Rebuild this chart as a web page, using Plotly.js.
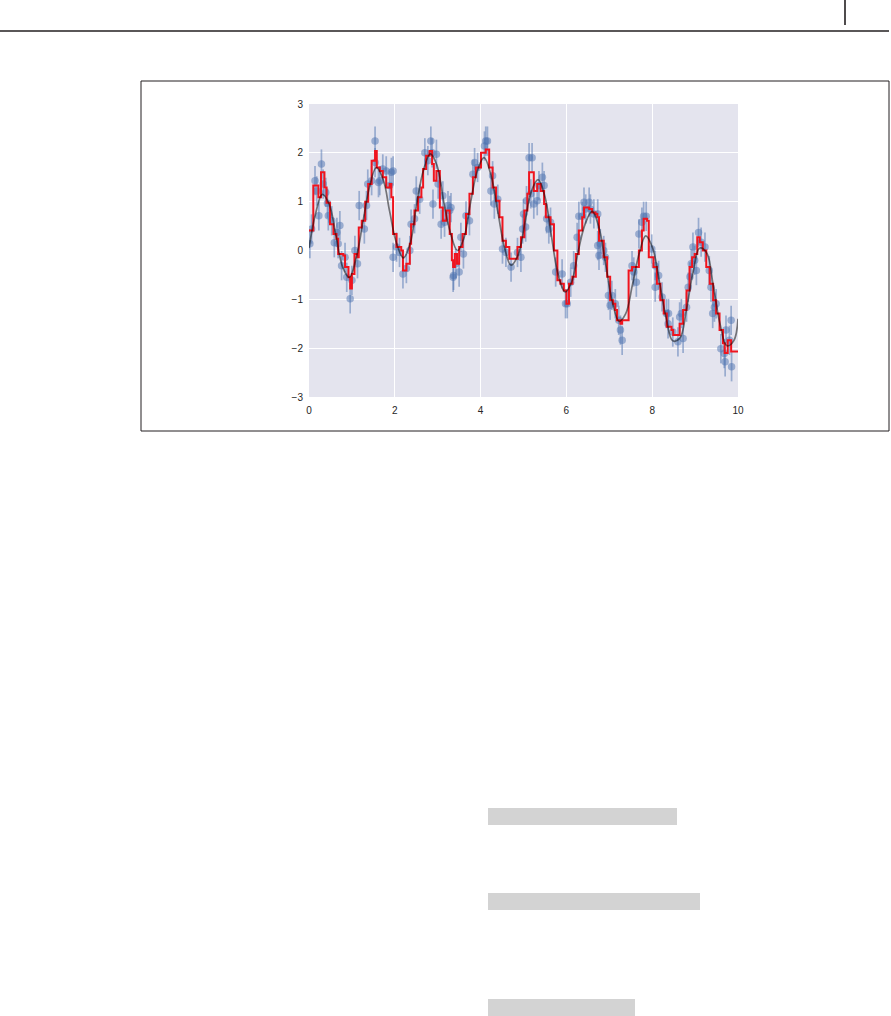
<!DOCTYPE html>
<html>
<head>
<meta charset="utf-8">
<script src="https://cdn.plot.ly/plotly-3.0.1.min.js"></script>
<style>
html,body{margin:0;padding:0;background:#fff;}
#chart{width:891px;height:1016px;}
</style>
</head>
<body>
<div id="chart"></div>
<script>
const dataX = [0.02,0.06,0.14,0.18,0.23,0.29,0.33,0.39,0.43,0.45,0.53,0.59,0.65,0.72,0.68,0.76,0.84,0.88,0.96,1.0,1.07,1.13,1.17,1.29,1.34,1.37,1.46,1.54,1.54,1.62,
1.65,1.72,1.8,1.88,1.92,1.96,1.96,2.04,2.11,2.19,2.27,2.35,2.38,2.46,2.5,2.58,2.7,2.77,2.84,2.87,2.89,2.97,3.01,3.12,3.08,3.16,3.24,3.28,3.36,
3.31,3.37,3.42,3.5,3.54,3.6,3.66,3.74,3.82,3.86,3.93,4.09,4.12,4.16,4.24,4.28,4.32,4.4,4.51,4.59,4.71,4.86,4.94,4.98,5.0,5.07,
5.05,5.13,5.2,5.17,5.24,5.32,5.36,5.44,5.48,5.54,5.59,5.63,5.75,5.9,5.98,6.02,6.1,6.17,6.25,6.29,6.37,6.41,6.45,6.53,6.56,6.64,6.73,6.76,
6.73,6.79,6.87,6.91,6.98,7.02,7.06,7.14,7.22,7.26,7.3,7.53,7.57,7.63,7.69,7.76,7.8,7.86,7.99,8.07,8.07,8.15,8.23,8.33,8.37,
8.38,8.48,8.6,8.64,8.68,8.72,8.8,8.84,8.88,8.91,8.95,8.99,9.03,9.08,9.14,9.23,9.33,9.37,9.41,9.45,9.49,9.6,9.68,9.72,9.7,9.8,9.84,9.85];
const dataY = [0.14,0.44,1.43,1.22,0.71,1.77,1.36,1.19,0.97,0.71,0.61,0.16,0.37,0.51,0.14,-0.31,-0.14,-0.55,-0.99,-0.61,0.0,-0.27,0.92,0.44,0.92,1.36,1.43,2.24,1.8,1.39,
1.43,1.67,1.63,1.33,1.6,1.63,-0.14,0.07,-0.04,-0.48,-0.37,0.0,0.54,0.65,1.22,1.05,2.0,1.84,2.24,2.0,0.95,1.97,1.36,1.12,0.54,0.58,0.92,0.82,-0.55,
0.88,-0.51,-0.27,-0.44,0.27,-0.07,0.71,0.61,1.56,1.8,1.7,2.14,2.24,2.24,1.22,1.53,0.95,1.05,0.03,-0.04,-0.34,-0.04,-0.14,0.44,0.75,1.02,
0.48,1.9,1.9,1.16,0.95,1.02,1.33,1.5,1.33,0.65,0.44,0.58,-0.44,-0.48,-1.09,-1.09,-0.65,-0.31,0.27,0.7,0.7,0.99,0.85,0.99,0.85,0.75,0.1,-0.1,
0.75,0.14,0.0,-0.14,-0.92,-1.12,-0.92,-1.09,-1.43,-1.63,-1.84,-0.31,-0.44,-0.65,0.34,0.58,0.7,0.7,0.03,-0.31,-0.75,-0.51,-0.95,-1.29,-1.5,
-1.29,-1.67,-1.87,-1.36,-1.29,-1.8,-1.16,-0.75,-0.54,-0.27,0.07,-0.2,-0.41,0.37,0.17,0.07,-0.41,-0.75,-1.29,-1.16,-1.09,-2.01,-2.11,-1.63,-2.28,-1.84,-1.43,-2.38];
const errorSize = 0.3;

// Random forest prediction (step curve)
const forestX = [0.0,0.1,0.22,0.28,0.36,0.41,0.49,0.57,0.64,0.68,0.8,0.84,0.92,0.96,1.0,1.06,1.13,1.16,1.23,1.31,1.38,1.46,1.54,1.58,1.65,1.72,1.8,1.88,1.92,1.96,
2.04,2.15,2.19,2.27,2.35,2.38,2.46,2.54,2.62,2.66,2.73,2.81,2.87,2.91,2.97,3.05,3.12,3.2,3.28,3.33,3.36,3.4,3.45,3.5,3.58,3.66,3.74,3.82,3.89,4.01,
4.12,4.2,4.28,4.36,4.44,4.51,4.59,4.67,4.86,4.94,5.02,5.09,5.13,5.24,5.32,5.4,5.48,5.52,5.63,5.71,5.79,5.86,5.94,6.0,6.06,6.14,6.22,6.29,6.37,6.41,
6.53,6.6,6.68,6.72,6.76,6.87,6.95,7.02,7.09,7.14,7.18,7.26,7.3,7.45,7.53,7.69,7.76,7.8,7.88,7.92,8.03,8.11,8.19,8.27,8.34,8.45,8.49,8.64,8.72,8.8,
8.87,8.93,8.99,9.05,9.11,9.18,9.26,9.34,9.42,9.49,9.57,9.65,9.69,9.76,9.84,10.0];
const forestY = [0.41,1.33,1.09,1.6,1.29,0.98,0.54,0.34,0.24,-0.07,-0.1,-0.34,-0.55,-0.78,-0.48,-0.07,-0.14,0.47,0.61,1.0,1.36,1.84,2.04,1.7,1.63,1.5,1.29,1.36,1.09,0.34,
0.07,0.0,-0.41,-0.27,0.14,0.54,0.82,1.09,1.29,1.67,1.94,2.04,1.77,1.43,1.63,0.88,0.61,0.82,0.34,-0.2,-0.34,-0.07,-0.27,0.07,0.34,0.75,1.16,1.5,1.7,2.0,
2.07,1.7,1.29,1.02,0.68,0.2,0.07,-0.17,0.07,0.27,0.82,1.16,1.6,1.22,1.36,1.22,0.95,0.68,0.54,0.0,-0.61,-0.68,-0.82,-1.09,-0.68,-0.54,-0.07,0.41,0.68,0.88,
0.85,0.78,0.75,0.68,0.2,-0.14,-0.54,-1.02,-1.09,-1.22,-1.43,-1.5,-1.43,-0.41,-0.34,0.0,0.41,0.65,0.61,-0.14,-0.34,-0.68,-1.02,-1.29,-1.56,-1.63,-1.73,-1.5,-1.22,-0.82,
-0.34,-0.14,-0.07,0.27,0.17,0.0,-0.34,-0.68,-1.02,-1.29,-1.63,-1.9,-2.1,-1.84,-2.07,-2.07];

// True model curve
const trueX = [0,0.16,0.31,0.47,0.63,0.79,0.94,1.1,1.26,1.41,1.57,1.73,1.88,2.04,2.2,2.36,2.51,2.67,2.83,2.98,3.14,3.3,3.46,3.61,3.77,3.93,4.08,4.24,4.4,4.56,4.71,4.87,5.03,5.18,5.34,5.5,5.65,5.81,5.97,6.12,6.28,6.44,6.6,6.75,6.91,7.07,7.23,7.38,7.54,7.7,7.85,8.01,8.17,8.33,8.48,8.64,8.8,8.95,9.11,9.27,9.42,9.58,9.74,9.9,10];
const trueY = [0.05,0.78,1.15,0.95,0.3,-0.35,-0.55,-0.15,0.6,1.3,1.7,1.45,0.8,0.15,-0.15,0.15,0.95,1.65,1.98,1.75,1.0,0.35,0.0,0.25,1.0,1.65,1.9,1.55,0.8,0.05,-0.3,-0.1,0.55,1.2,1.45,1.1,0.3,-0.5,-0.85,-0.65,0.0,0.55,0.8,0.5,-0.25,-1.05,-1.45,-1.3,-0.7,-0.05,0.3,0.05,-0.65,-1.4,-1.85,-1.8,-1.2,-0.45,0.05,-0.05,-0.7,-1.5,-1.95,-1.85,-1.4];

const xTicks = [0,2,4,6,8,10];
const yTicks = [-3,-2,-1,0,1,2,3];
const yTickText = ['\u22123','\u22122','\u22121','0','1','2','3'];

const W = 891, H = 1016;
const L = 309, R = 738, T = 104, B = 397;
function px(x){return (x - L)/(R - L);}
function py(y){return (B - y)/(B - T);}
function rect(x0,y0,x1,y1,fill,line){
  return {type:'rect',xref:'paper',yref:'paper',x0:px(x0),x1:px(x1),y0:py(y1),y1:py(y0),
    fillcolor:fill||'rgba(0,0,0,0)',line:line||{width:0},layer:'below'};
}
function seg(x0,y0,x1,y1,w){
  return {type:'line',xref:'paper',yref:'paper',x0:px(x0),x1:px(x1),y0:py(y0),y1:py(y1),
    line:{color:'#231f20',width:w}};
}

const traces = [
  {x:dataX,y:dataY,type:'scatter',mode:'markers',
   marker:{color:'rgba(76,114,176,0.5)',size:7.5,line:{width:0}},
   error_y:{type:'constant',value:errorSize,color:'rgba(76,114,176,0.5)',thickness:1.7,width:0},
   hoverinfo:'skip',showlegend:false},
  {x:forestX,y:forestY,type:'scatter',mode:'lines',line:{color:'#f0141e',width:2,shape:'hv'},showlegend:false},
  {x:trueX,y:trueY,type:'scatter',mode:'lines',line:{color:'rgba(0,0,0,0.5)',width:1.7,shape:'spline',smoothing:1.1},showlegend:false}
];

const layout = {
  width:W,height:H,
  margin:{l:L,r:W-R,t:T,b:H-B,pad:0},
  paper_bgcolor:'#ffffff',plot_bgcolor:'#e4e4ee',
  font:{family:'Liberation Sans, Arial, sans-serif',size:10,color:'#262626'},
  xaxis:{range:[0,10],tickvals:xTicks,ticktext:xTicks.map(String),showgrid:true,gridcolor:'#ffffff',gridwidth:1,
    zeroline:false,showline:false,ticks:'',ticklabelstandoff:6,tickfont:{size:10,color:'#262626'},fixedrange:true},
  yaxis:{range:[-3,3],tickvals:yTicks,ticktext:yTickText,showgrid:true,gridcolor:'#ffffff',gridwidth:1,
    zeroline:false,showline:false,ticks:'',ticklabelstandoff:5,tickfont:{size:10,color:'#262626'},fixedrange:true},
  shapes:[
    seg(0,31,889,31,1.3),
    seg(845,0,845,25,1.6),
    rect(141,81,889,431,'rgba(0,0,0,0)',{color:'#231f20',width:1}),
    rect(488,808,677,825,'#d3d3d3'),
    rect(488,893,700,910,'#d3d3d3'),
    rect(488,999,635,1016,'#d3d3d3')
  ]
};

Plotly.newPlot('chart',traces,layout,{displayModeBar:false,staticPlot:true});
</script>
</body>
</html>
